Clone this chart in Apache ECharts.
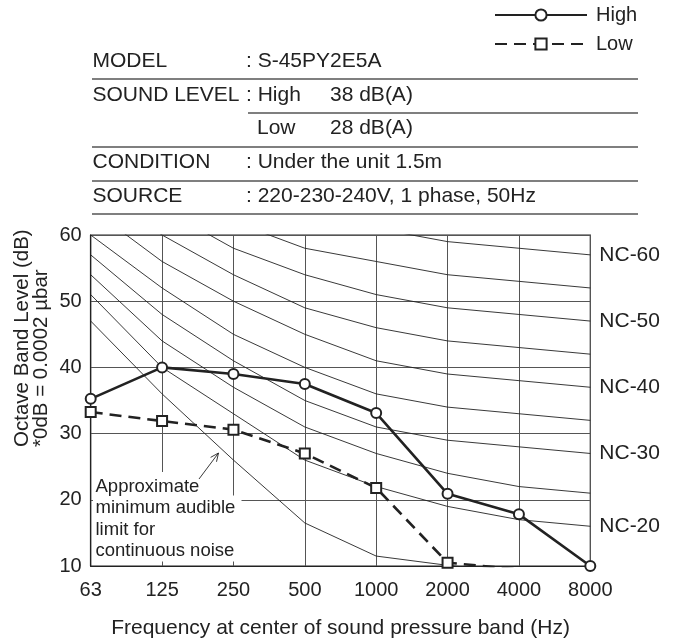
<!DOCTYPE html>
<html><head><meta charset="utf-8">
<script src="https://cdn.jsdelivr.net/npm/echarts@6/dist/echarts.min.js"></script>
<style>html,body{margin:0;padding:0;background:#fff}#c{width:682px;height:644px}</style>
</head><body><div id="c"></div>
<script>
// ---- data ----
const freqLabels = ['63', '125', '250', '500', '1000', '2000', '4000', '8000'];
const highValues = [35.25, 40.0, 39.0, 37.5, 33.1, 20.9, 17.8, 10.0];
const lowValues = [33.25, 31.9, 30.6, 27.0, 21.8, 10.5, 9.5, null];
const ncNames = ['NC-20', 'NC-25', 'NC-30', 'NC-35', 'NC-40', 'NC-45', 'NC-50', 'NC-55', 'NC-60'];
const nc20 = [51, 40, 33, 26, 22, 19, 17, 16];
const nc25 = [54, 44, 37, 31, 27, 24, 22, 21];
const nc30 = [57, 48, 41, 35, 31, 29, 28, 27];
const nc35 = [60, 52, 45, 40, 36, 34, 33, 32];
const nc40 = [64, 56, 50, 45, 41, 39, 38, 37];
const nc45 = [67, 60, 54, 49, 46, 44, 43, 42];
const nc50 = [71, 64, 58, 54, 51, 49, 48, 47];
const nc55 = [74, 67, 62, 58, 56, 54, 53, 52];
const nc60 = [77, 71, 67, 63, 61, 59, 58, 57];
const ncCurves = [nc20, nc25, nc30, nc35, nc40, nc45, nc50, nc55, nc60];
const labelledNC = ['NC-20', 'NC-30', 'NC-40', 'NC-50', 'NC-60'];
const audibleLimit = [47, 36, 26, 16.5, 11.5, 10.1, 9, 8];
const yTicks = [10, 20, 30, 40, 50, 60];
const tableRows = [
  ['MODEL', ': S-45PY2E5A', ''],
  ['SOUND LEVEL', ': High', '38 dB(A)'],
  ['', 'Low', '28 dB(A)'],
  ['CONDITION', ': Under the unit 1.5m', ''],
  ['SOURCE', ': 220-230-240V, 1 phase, 50Hz', '']
];
const annotationLines = ['Approximate', 'minimum audible', 'limit for', 'continuous noise'];

// ---- chart ----
const FONT = '"Liberation Sans", Arial, Helvetica, sans-serif';
const TXT = '#222';
const chart = echarts.init(document.getElementById('c'), null, {renderer: 'canvas'});
const toXY = arr => arr.map((v, i) => v == null ? [i, null] : [i, v]);

const series = [];
ncCurves.forEach((arr, k) => {
  const name = ncNames[k];
  const lab = labelledNC.indexOf(name) >= 0;
  series.push({
    name: name, type: 'line', data: toXY(arr), symbol: 'none', silent: true, clip: true,
    lineStyle: {color: '#222', width: 0.9}, z: 2,
    endLabel: lab ? {show: true, formatter: name, color: TXT, fontSize: 21, fontFamily: FONT, distance: 9} : {show: false}
  });
});
series.push({
  name: 'audible', type: 'line', data: toXY(audibleLimit), symbol: 'none', silent: true, clip: true,
  lineStyle: {color: '#222', width: 0.9}, z: 2
});
series.push({
  name: 'High', type: 'line', data: toXY(highValues), clip: true,
  symbol: 'emptyCircle', symbolSize: 10, showAllSymbol: true,
  lineStyle: {color: '#222', width: 2.6}, itemStyle: {color: '#222', borderWidth: 1.2}, z: 5
});
series.push({
  name: 'Low', type: 'line', data: toXY(lowValues), clip: true, connectNulls: false,
  symbol: 'emptyRect', symbolSize: 10, showAllSymbol: true,
  lineStyle: {color: '#222', width: 2.6, type: [12, 7]}, itemStyle: {color: '#222', borderWidth: 1.2}, z: 5
});

// graphics
const graphic = [];
const ruleX0 = 92, ruleX1 = 638;
const rowY = [61.7, 95, 128, 162.7, 196.7];
const ruleY = [79, 113, 147, 181, 214];
tableRows.forEach((r, i) => {
  if (r[0]) graphic.push({type: 'text', x: 92.5, y: rowY[i], style: {text: r[0], fill: TXT, font: '21px ' + FONT, textVerticalAlign: 'middle'}});
  if (r[1]) graphic.push({type: 'text', x: r[1][0] === ':' ? 246 : 257, y: rowY[i], style: {text: r[1], fill: TXT, font: '21px ' + FONT, textVerticalAlign: 'middle'}});
  if (r[2]) graphic.push({type: 'text', x: 330, y: rowY[i], style: {text: r[2], fill: TXT, font: '21px ' + FONT, textVerticalAlign: 'middle'}});
  graphic.push({type: 'line', shape: {x1: i === 1 ? 248 : ruleX0, y1: ruleY[i], x2: ruleX1, y2: ruleY[i]}, style: {stroke: '#555', lineWidth: 1.6}});
});
// y-axis title
graphic.push({type: 'text', x: 22.5, y: 447, rotation: Math.PI / 2, style: {text: 'Octave Band Level (dB)', fill: TXT, font: '20.5px ' + FONT, textAlign: 'left', textVerticalAlign: 'middle'}});
graphic.push({type: 'text', x: 41, y: 447, rotation: Math.PI / 2, style: {text: '*0dB = 0.0002 µbar', fill: TXT, font: '20.5px ' + FONT, textAlign: 'left', textVerticalAlign: 'middle'}});
// annotation masks + text
graphic.push({type: 'rect', z: 49, shape: {x: 93, y: 472, width: 112, height: 25}, style: {fill: '#fff'}});
graphic.push({type: 'rect', z: 49, shape: {x: 93, y: 495.5, width: 148.5, height: 66}, style: {fill: '#fff'}});
const annY = [487, 508.3, 529.6, 551];
annotationLines.forEach((t, i) => {
  graphic.push({type: 'text', x: 95.5, y: annY[i], z: 50, style: {text: t, fill: TXT, font: '18.5px ' + FONT, textVerticalAlign: 'middle'}});
});
// arrow
const ax0 = 199, ay0 = 479, ax1 = 218.5, ay1 = 453;
const dx = ax1 - ax0, dy = ay1 - ay0, L = Math.hypot(dx, dy), ux = dx / L, uy = dy / L;
const ah = 9, aw = 0.42;
const c = Math.cos(aw), s = Math.sin(aw);
const p1 = [ax1 - ah * (ux * c - uy * s), ay1 - ah * (uy * c + ux * s)];
const p2 = [ax1 - ah * (ux * c + uy * s), ay1 - ah * (uy * c - ux * s)];
graphic.push({type: 'line', z: 51, shape: {x1: ax0, y1: ay0, x2: ax1, y2: ay1}, style: {stroke: '#222', lineWidth: 0.9}});
graphic.push({type: 'polyline', z: 51, shape: {points: [p1, [ax1, ay1], p2]}, style: {stroke: '#222', lineWidth: 0.9, fill: null}});

const option = {
  animation: false,
  backgroundColor: '#fff',
  textStyle: {fontFamily: FONT},
  grid: {left: 90.7, right: 91.7, top: 235, bottom: 75.7, show: true, borderColor: '#222', borderWidth: 1.2, backgroundColor: 'transparent'},
  legend: {
    data: ['High', 'Low'], orient: 'vertical', left: 489, top: 0,
    itemWidth: 92, itemHeight: 14, itemGap: 9,
    textStyle: {fontSize: 20, color: TXT, fontFamily: FONT, padding: [0, 0, 0, 4]},
    selectedMode: false
  },
  xAxis: {
    type: 'value', min: 0, max: 7, interval: 1,
    name: 'Frequency at center of sound pressure band (Hz)', nameLocation: 'middle', nameGap: 52,
    nameTextStyle: {fontSize: 21, color: TXT, fontFamily: FONT},
    axisLine: {show: true, lineStyle: {color: '#222', width: 1.2}},
    axisTick: {show: false},
    axisLabel: {fontSize: 20, color: TXT, margin: 14, fontFamily: FONT, formatter: v => freqLabels[Math.round(v)] || ''},
    splitLine: {show: true, lineStyle: {color: '#555', width: 1}}
  },
  yAxis: {
    type: 'value', min: yTicks[0], max: yTicks[yTicks.length - 1], interval: 10,
    axisLine: {show: true, lineStyle: {color: '#222', width: 1.2}},
    axisTick: {show: false},
    axisLabel: {fontSize: 20, color: TXT, margin: 9, fontFamily: FONT},
    splitLine: {show: true, lineStyle: {color: '#555', width: 1}}
  },
  graphic: graphic,
  series: series
};
chart.setOption(option);
</script>
</body></html>
